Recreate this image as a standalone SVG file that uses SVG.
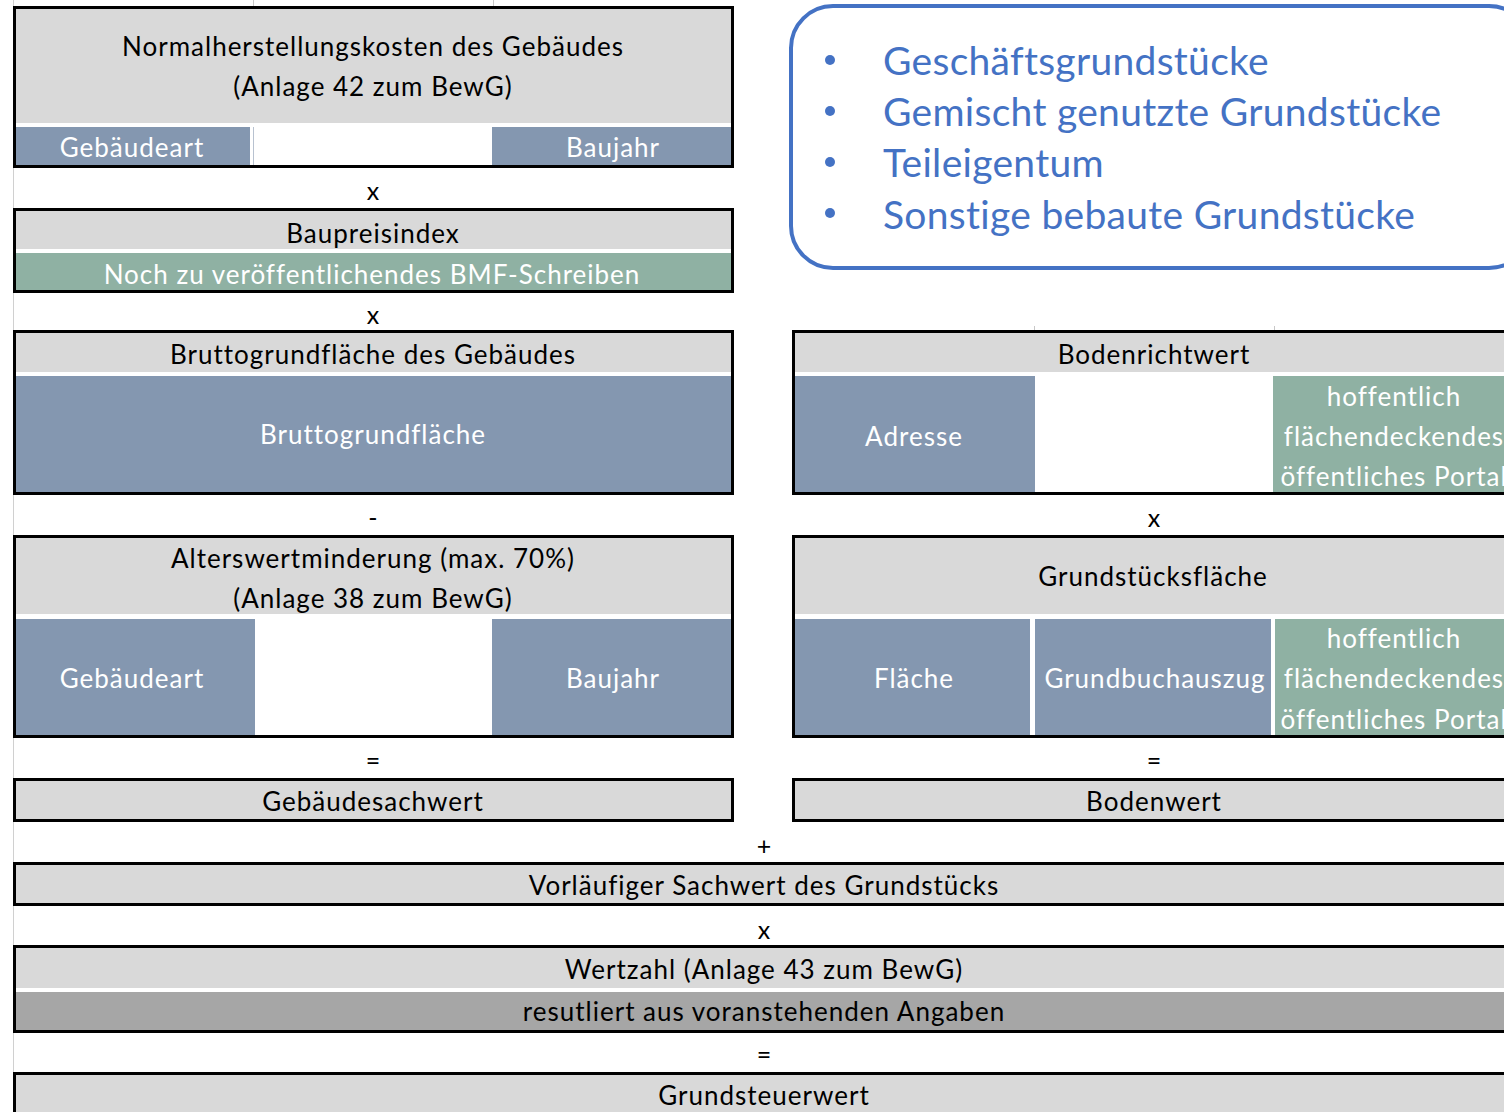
<svg xmlns="http://www.w3.org/2000/svg" width="1504" height="1112" viewBox="0 0 1504 1112">
<style>
text{font-family:Lato,"Open Sans","Liberation Sans",sans-serif;font-size:26px;letter-spacing:1px;text-anchor:middle;dominant-baseline:central}
.k{fill:#000}
.w{fill:#fff}
.g{fill:#d9d9d9}
.b{fill:#8497b0}
.n{fill:#8fb1a3}
.d{fill:#a6a6a6}
.frame{fill:none;stroke:#000;stroke-width:3}
.op{font-size:25px;letter-spacing:0}
.bl{fill:#4472c4;font-size:39px;letter-spacing:0.3px;text-anchor:start}
</style>
<rect width="1504" height="1112" fill="#fff"/>
<line x1="13.5" y1="0" x2="13.5" y2="1112" stroke="#d0d0d0" stroke-width="1"/>
<line x1="253.5" y1="0" x2="253.5" y2="6" stroke="#c8c8c8"/>
<line x1="493.5" y1="0" x2="493.5" y2="6" stroke="#c8c8c8"/>
<line x1="1034.5" y1="326" x2="1034.5" y2="332" stroke="#c8c8c8"/>
<line x1="1274.5" y1="326" x2="1274.5" y2="332" stroke="#c8c8c8"/>

<g id="normalherstellungskosten">
<rect class="g" x="15" y="9" width="717" height="114"/>
<rect class="b" x="15" y="127" width="235" height="38"/>
<line x1="253.5" y1="127" x2="253.5" y2="165" stroke="#b8c2d0" stroke-width="1"/>
<rect class="b" x="492" y="127" width="240" height="38"/>
<rect class="frame" x="14.5" y="7.5" width="718" height="159"/>
<text class="k" x="373" y="46">Normalherstellungskosten des Gebäudes</text>
<text class="k" x="373" y="86">(Anlage 42 zum BewG)</text>
<text class="w" x="132" y="147">Gebäudeart</text>
<text class="w" x="613" y="147">Baujahr</text>
</g>
<g id="op1"><text class="k op" x="373" y="190">x</text></g>

<g id="baupreisindex">
<rect class="g" x="15" y="211" width="717" height="38"/>
<rect class="n" x="15" y="253" width="717" height="37"/>
<rect class="frame" x="14.5" y="209.5" width="718" height="82"/>
<text class="k" x="373" y="233">Baupreisindex</text>
<text class="w" x="372" y="274">Noch zu veröffentlichendes BMF-Schreiben</text>
</g>
<g id="op2"><text class="k op" x="373" y="314">x</text></g>

<g id="bruttogrundflaeche">
<rect class="g" x="15" y="333" width="717" height="39"/>
<rect class="b" x="15" y="376" width="717" height="116"/>
<rect class="frame" x="14.5" y="331.5" width="718" height="162"/>
<text class="k" x="373" y="354">Bruttogrundfläche des Gebäudes</text>
<text class="w" x="373" y="434">Bruttogrundfläche</text>
</g>
<g id="op3"><text class="k op" x="373" y="517">-</text></g>

<g id="alterswertminderung">
<rect class="g" x="15" y="538" width="717" height="76"/>
<rect class="b" x="15" y="619" width="240" height="117"/>
<rect class="b" x="492" y="619" width="240" height="117"/>
<rect class="frame" x="14.5" y="536.5" width="718" height="200"/>
<text class="k" x="373" y="558">Alterswertminderung (max. 70%)</text>
<text class="k" x="373" y="598">(Anlage 38 zum BewG)</text>
<text class="w" x="132" y="678">Gebäudeart</text>
<text class="w" x="613" y="678">Baujahr</text>
</g>
<g id="op4"><text class="k op" x="373" y="760">=</text></g>

<g id="gebaeudesachwert">
<rect class="g" x="15" y="780" width="717" height="40"/>
<rect class="frame" x="14.5" y="779.5" width="718" height="41"/>
<text class="k" x="373" y="801">Gebäudesachwert</text>
</g>

<g id="bodenrichtwert">
<rect class="g" x="795" y="333" width="720" height="39"/>
<rect class="b" x="795" y="376" width="240" height="116"/>
<rect class="n" x="1273" y="376" width="240" height="116"/>
<rect class="frame" x="793.5" y="331.5" width="730" height="162"/>
<text class="k" x="1154" y="354">Bodenrichtwert</text>
<text class="w" x="914" y="436">Adresse</text>
<text class="w" x="1394" y="396">hoffentlich</text>
<text class="w" x="1394" y="436">flächendeckendes</text>
<text class="w" x="1394" y="476">öffentliches Portal</text>
</g>
<g id="op5"><text class="k op" x="1154" y="517">x</text></g>

<g id="grundstuecksflaeche">
<rect class="g" x="795" y="538" width="720" height="76"/>
<rect class="b" x="795" y="619" width="235" height="117"/>
<rect class="b" x="1035" y="619" width="236" height="117"/>
<rect class="n" x="1275" y="619" width="240" height="117"/>
<rect class="frame" x="793.5" y="536.5" width="730" height="200"/>
<text class="k" x="1153" y="576">Grundstücksfläche</text>
<text class="w" x="914" y="678">Fläche</text>
<text class="w" x="1155" y="678">Grundbuchauszug</text>
<text class="w" x="1394" y="638">hoffentlich</text>
<text class="w" x="1394" y="678">flächendeckendes</text>
<text class="w" x="1394" y="719">öffentliches Portal</text>
</g>
<g id="op6"><text class="k op" x="1154" y="760">=</text></g>

<g id="bodenwert">
<rect class="g" x="795" y="780" width="720" height="40"/>
<rect class="frame" x="793.5" y="779.5" width="730" height="41"/>
<text class="k" x="1154" y="801">Bodenwert</text>
</g>
<g id="op7"><text class="k op" x="764" y="845">+</text></g>

<g id="vorlaeufiger_sachwert">
<rect class="g" x="15" y="864" width="1500" height="40"/>
<rect class="frame" x="14.5" y="863.5" width="1510" height="41"/>
<text class="k" x="764" y="885">Vorläufiger Sachwert des Grundstücks</text>
</g>
<g id="op8"><text class="k op" x="764" y="929">x</text></g>

<g id="wertzahl">
<rect class="g" x="15" y="948" width="1500" height="40"/>
<rect class="d" x="15" y="992" width="1500" height="38"/>
<rect class="frame" x="14.5" y="946.5" width="1510" height="85"/>
<text class="k" x="764" y="969">Wertzahl (Anlage 43 zum BewG)</text>
<text class="k" x="764" y="1011">resutliert aus voranstehenden Angaben</text>
</g>
<g id="op9"><text class="k op" x="764" y="1054">=</text></g>

<g id="grundsteuerwert">
<rect class="g" x="15" y="1075" width="1500" height="40"/>
<rect class="frame" x="14.5" y="1073.5" width="1510" height="45"/>
<text class="k" x="764" y="1095">Grundsteuerwert</text>
</g>

<g id="grundstuecksarten">
<rect x="791" y="6" width="740" height="262" rx="42" ry="42" fill="none" stroke="#4472c4" stroke-width="4"/>
<circle cx="830" cy="60" r="5" fill="#4472c4"/>
<circle cx="830" cy="111" r="5" fill="#4472c4"/>
<circle cx="830" cy="162" r="5" fill="#4472c4"/>
<circle cx="830" cy="213" r="5" fill="#4472c4"/>
<text class="bl" x="883" y="60">Geschäftsgrundstücke</text>
<text class="bl" x="883" y="111">Gemischt genutzte Grundstücke</text>
<text class="bl" x="883" y="162">Teileigentum</text>
<text class="bl" x="883" y="214">Sonstige bebaute Grundstücke</text>
</g>
</svg>
